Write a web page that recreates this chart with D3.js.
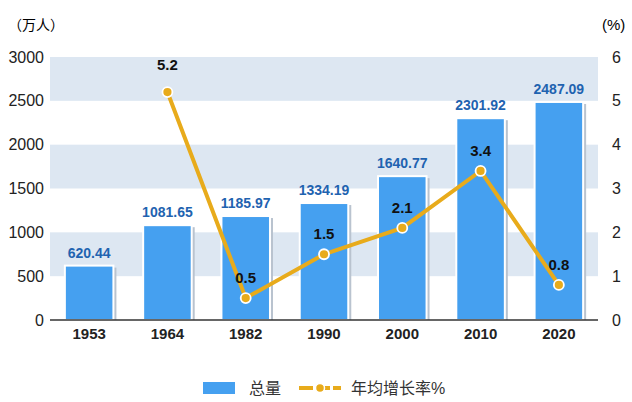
<!DOCTYPE html>
<html><head><meta charset="utf-8">
<script src="https://cdn.jsdelivr.net/npm/d3@7"></script>
<style>body{margin:0;background:#fff;font-family:"Liberation Sans",Arial,"Noto Sans CJK SC",sans-serif}</style>
</head><body><div id="chart"></div>
<script>
const years = ["1953", "1964", "1982", "1990", "2000", "2010", "2020"];
const totals = [620.44, 1081.65, 1185.97, 1334.19, 1640.77, 2301.92, 2487.09];
const rates = [null, 5.2, 0.5, 1.5, 2.1, 3.4, 0.8];
const leftTicks = [0, 500, 1000, 1500, 2000, 2500, 3000];
const rightTicks = [0, 1, 2, 3, 4, 5, 6];

const W = 632, H = 402;
const margin = { top: 57, right: 34, bottom: 82, left: 50 };
const iw = W - margin.left - margin.right, ih = H - margin.top - margin.bottom;

const svg = d3.select("#chart").append("svg").attr("width", W).attr("height", H);
const g = svg.append("g").attr("transform", `translate(${margin.left},${margin.top})`);

const x = d3.scaleBand().domain(years).range([0, iw]).paddingInner(0.38).paddingOuter(0.19);
const y = d3.scaleLinear().domain([0, 3000]).range([ih, 0]);
const y2 = d3.scaleLinear().domain([0, 6]).range([ih, 0]);

// alternating bands
[[500, 1000], [1500, 2000], [2500, 3000]].forEach(([a, b]) => {
  g.append("rect").attr("x", 0).attr("width", iw).attr("y", y(b)).attr("height", y(a) - y(b)).attr("fill", "#dde7f2");
});

// axes
const yl = g.append("g").call(d3.axisLeft(y).tickValues(leftTicks).tickFormat(d3.format("d")).tickSize(0).tickPadding(6));
yl.select(".domain").remove();
yl.selectAll("text").attr("font-size", 16).attr("fill", "#222");
const yr = g.append("g").attr("transform", `translate(${iw},0)`).call(d3.axisRight(y2).tickValues(rightTicks).tickFormat(d3.format("d")).tickSize(0).tickPadding(14));
yr.select(".domain").remove();
yr.selectAll("text").attr("font-size", 16).attr("fill", "#222");
g.append("text").attr("x", -42).attr("y", -27).attr("font-size", 14).text("（万人）");
g.append("text").attr("x", iw + 4).attr("y", -27).attr("font-size", 15).text("(%)");

// bars
const bars = g.selectAll(".bar").data(years).enter();
bars.append("rect").attr("x", d => x(d) + 3).attr("y", (d, i) => y(totals[i]) + 2)
  .attr("width", x.bandwidth()).attr("height", (d, i) => ih - y(totals[i]) - 2).attr("fill", "#b9c3cf");
bars.append("rect").attr("x", d => x(d)).attr("y", (d, i) => y(totals[i]))
  .attr("width", x.bandwidth()).attr("height", (d, i) => ih - y(totals[i]))
  .attr("fill", "#45a0f0").attr("stroke", "#fff").attr("stroke-width", 2);
bars.append("text").attr("x", d => x(d) + x.bandwidth() / 2).attr("y", (d, i) => y(totals[i]) - 8)
  .attr("text-anchor", "middle").attr("font-size", 14).attr("font-weight", "bold").attr("fill", "#1f63b0")
  .text((d, i) => totals[i].toFixed(2));

// x axis
g.append("line").attr("x1", 0).attr("x2", iw).attr("y1", ih).attr("y2", ih).attr("stroke", "#333").attr("stroke-width", 1.5);
const xa = g.append("g").attr("transform", `translate(0,${ih})`).call(d3.axisBottom(x).tickSize(0).tickPadding(8));
xa.select(".domain").remove();
xa.selectAll("text").attr("font-size", 15).attr("font-weight", "bold").attr("fill", "#222");

// rate line
const pts = years.map((d, i) => ({ d, v: rates[i] })).filter(p => p.v !== null);
const line = d3.line().x(p => x(p.d) + x.bandwidth() / 2).y(p => y2(p.v));
g.append("path").datum(pts).attr("d", line).attr("fill", "none").attr("stroke", "#e8ab1b").attr("stroke-width", 4);
g.selectAll(".dot").data(pts).enter().append("circle")
  .attr("cx", p => x(p.d) + x.bandwidth() / 2).attr("cy", p => y2(p.v)).attr("r", 5)
  .attr("fill", "#e8ab1b").attr("stroke", "#fff").attr("stroke-width", 1.8);
g.selectAll(".rl").data(pts).enter().append("text")
  .attr("x", p => x(p.d) + x.bandwidth() / 2).attr("y", p => y2(p.v) - (p.v === 5.2 ? 22 : 15))
  .attr("text-anchor", "middle").attr("font-size", 15).attr("font-weight", "bold").attr("fill", "#111")
  .text(p => p.v.toFixed(1));

// legend
const lg = svg.append("g").attr("transform", "translate(203,388)");
lg.append("rect").attr("x", 0).attr("y", -6).attr("width", 32).attr("height", 12).attr("fill", "#45a0f0");
lg.append("text").attr("x", 46).attr("y", 6).attr("font-size", 16).attr("fill", "#333").text("总量");
lg.append("line").attr("x1", 96).attr("x2", 138).attr("y1", 0).attr("y2", 0).attr("stroke", "#e8ab1b").attr("stroke-width", 4).attr("stroke-dasharray", "14,3");
lg.append("circle").attr("cx", 117).attr("cy", 0).attr("r", 4.5).attr("fill", "#e8ab1b").attr("stroke", "#fff").attr("stroke-width", 1.5);
lg.append("text").attr("x", 148).attr("y", 6).attr("font-size", 16).attr("fill", "#333").text("年均增长率%");
</script></body></html>
